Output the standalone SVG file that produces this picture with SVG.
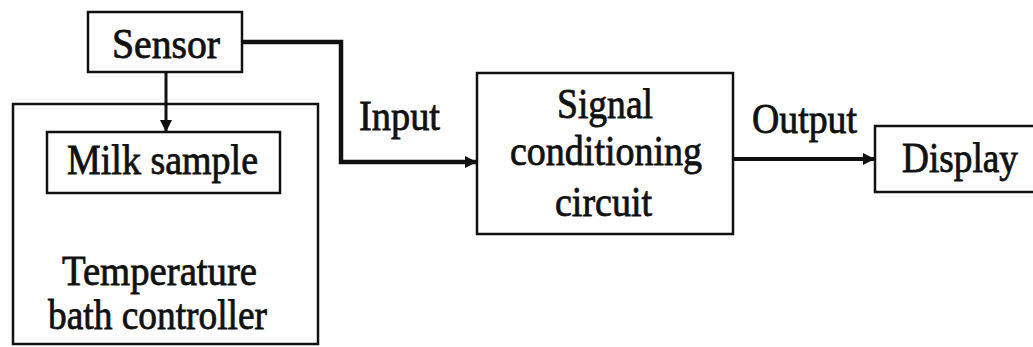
<svg xmlns="http://www.w3.org/2000/svg" width="1033" height="347" viewBox="0 0 1033 347">
<style>
.box{fill:none;stroke:#111;stroke-width:2.5}
.t{font-family:"Times New Roman","Liberation Serif",Tinos,Times,serif;font-size:42px;fill:#111;stroke:#111;stroke-width:0.8}
.c{fill:none;stroke:#111}
</style>
<defs>
<marker id="ah" viewBox="0 0 10 10" refX="10" refY="5" markerWidth="14" markerHeight="12" markerUnits="userSpaceOnUse" orient="auto">
<path d="M0,0 L10,5 L0,10 z" fill="#111"/>
</marker>
</defs>
<rect width="1033" height="347" fill="#fff"/>
<g id="sensor">
<rect class="box" x="88" y="12" width="154" height="60"/>
<text class="t" x="112" y="58" textLength="108" lengthAdjust="spacingAndGlyphs">Sensor</text>
</g>
<g id="bath">
<rect class="box" x="13" y="104" width="305" height="240"/>
<text class="t" x="62" y="285" textLength="195" lengthAdjust="spacingAndGlyphs">Temperature</text>
<text class="t" x="48" y="329" textLength="219" lengthAdjust="spacingAndGlyphs">bath controller</text>
</g>
<g id="milk">
<rect class="box" x="47" y="132" width="233" height="61"/>
<text class="t" x="67" y="174" textLength="191" lengthAdjust="spacingAndGlyphs">Milk sample</text>
</g>
<g id="signal">
<rect class="box" x="477" y="73" width="256" height="161"/>
<text class="t" x="557" y="118" textLength="96" lengthAdjust="spacingAndGlyphs">Signal</text>
<text class="t" x="510" y="165" textLength="192" lengthAdjust="spacingAndGlyphs">conditioning</text>
<text class="t" x="555" y="216" textLength="97" lengthAdjust="spacingAndGlyphs">circuit</text>
</g>
<g id="display">
<rect class="box" x="875" y="126" width="170" height="66"/>
<text class="t" x="902" y="172" textLength="116" lengthAdjust="spacingAndGlyphs">Display</text>
</g>
<g id="connectors">
<path class="c" d="M166,72 V132" stroke-width="3" marker-end="url(#ah)"/>
<path class="c" d="M242,42 H341 V162 H477" stroke-width="4.5" marker-end="url(#ah)"/>
<path class="c" d="M733,159 H875" stroke-width="4" marker-end="url(#ah)"/>
<text class="t" x="359" y="130" textLength="81" lengthAdjust="spacingAndGlyphs">Input</text>
<text class="t" x="752" y="133" textLength="105" lengthAdjust="spacingAndGlyphs">Output</text>
</g>
</svg>
